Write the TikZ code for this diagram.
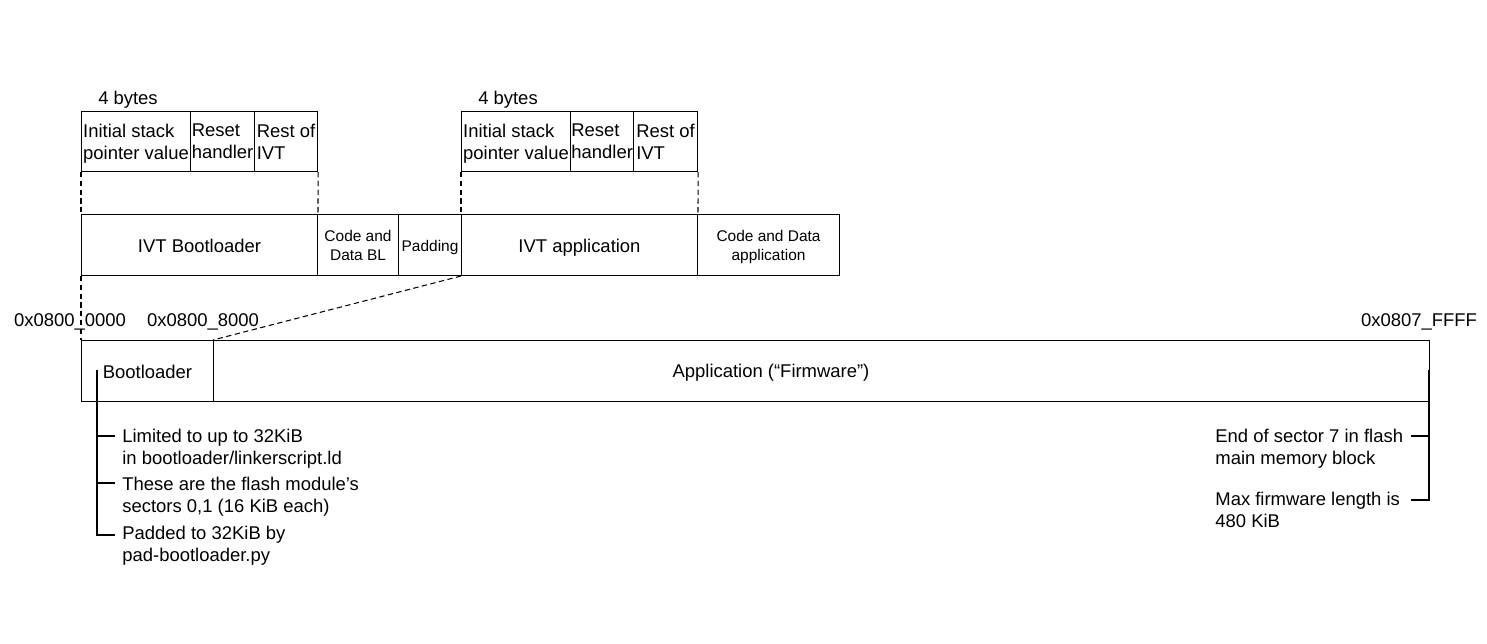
\documentclass[tikz,border=0pt]{standalone}
\usepackage{fontspec}
\setmainfont{Liberation Sans}
\begin{document}
\begin{tikzpicture}[x=0.02cm, y=-0.02cm, line width=0.6pt,
        every node/.style={font=\fontsize{10.5}{12.5}\selectfont, text depth=0pt,
            execute at begin node=\strut},
        cell/.style={draw, anchor=north west, inner sep=0.5pt, align=left},
        topcell/.style={cell, minimum height=1.2cm},
        rowcell/.style={cell, align=center, minimum height=1.22cm},
        small/.style={font=\fontsize{8.8}{10.8}\selectfont},
        guide/.style={dashed, dash pattern=on 3pt off 2pt, line width=0.6pt}]
        \useasboundingbox (0,0) rectangle (1487,644);

        % IVT of the bootloader
        \node (bytesbl) at (128,97) {4 bytes};
        \node[topcell, minimum width=2.18cm] (spbl) at (81,111) {Initial stack\\pointer value};
        \node[topcell, minimum width=1.28cm] (rstbl) at (190,111) {Reset\\handler};
        \node[topcell, minimum width=1.26cm] (restbl) at (254,111) {Rest of\\IVT};

        % IVT of the application
        \node (bytesapp) at (508,97) {4 bytes};
        \node[topcell, minimum width=2.18cm] (spapp) at (461,111) {Initial stack\\pointer value};
        \node[topcell, minimum width=1.26cm] (rstapp) at (570,111) {Reset\\handler};
        \node[topcell, minimum width=1.28cm] (restapp) at (633,111) {Rest of\\IVT};

        % Image layout
        \node[rowcell, minimum width=4.72cm] (ivtbl) at (81,214) {IVT Bootloader};
        \node[rowcell, small, minimum width=1.62cm] (codebl) at (317,214) {Code and\\Data BL};
        \node[rowcell, small, minimum width=1.26cm] (padding) at (398,214) {Padding};
        \node[rowcell, minimum width=4.72cm] (ivtapp) at (461,214) {IVT application};
        \node[rowcell, small, minimum width=2.84cm] (codeapp) at (697,214) {Code and Data\\application};

        % Flash
        \node[rowcell, minimum width=2.64cm] (boot) at (81,340) {Bootloader};
        \node[rowcell, minimum width=24.32cm] (firmware) at (213,340) {};
        \node (firmwarelbl) at (771,370) {Application (“Firmware”)};

        % Addresses
        \node (addrstart) at (70,319) {0x0800\_0000};
        \node (addrapp) at (203,319) {0x0800\_8000};
        \node (addrend) at (1419,319) {0x0807\_FFFF};

        % Zoom lines
        \draw[guide] (spbl.south west) -- (ivtbl.north west);
        \draw[guide] (restbl.south east) -- (ivtbl.north east);
        \draw[guide] (spapp.south west) -- (ivtapp.north west);
        \draw[guide] (restapp.south east) -- (ivtapp.north east);
        \draw[guide] (ivtbl.south west) -- (boot.north west);
        \draw[guide] (ivtapp.south west) -- (firmware.north west);

        % Notes on the bootloader
        \node[anchor=west, align=left] (notelimit) at (116,447) {Limited to up to 32KiB\\in bootloader/linkerscript.ld};
        \node[anchor=west, align=left] (notesectors) at (116,494.5) {These are the flash module’s\\sectors 0,1 (16 KiB each)};
        \node[anchor=west, align=left] (notepad) at (116,544) {Padded to 32KiB by\\pad-bootloader.py};
        \coordinate (bltop) at (97,370);
        \coordinate (bllimit) at (97,436);
        \coordinate (blsectors) at (97,483);
        \coordinate (blpad) at (97,535);
        \draw (bltop) -- (blpad) -- ++(18,0);
        \draw (bllimit) -- ++(18,0);
        \draw (blsectors) -- ++(18,0);

        % Notes on the firmware
        \node[anchor=west, align=left] (notesector) at (1209,447) {End of sector 7 in flash\\main memory block};
        \node[anchor=west, align=left] (notemax) at (1209,510) {Max firmware length is\\480 KiB};
        \coordinate (fwtop) at (1429,370);
        \coordinate (fwsector) at (1429,436);
        \coordinate (fwmax) at (1429,500);
        \draw (fwtop) -- (fwmax) -- ++(-18,0);
        \draw (fwsector) -- ++(-18,0);
    \end{tikzpicture}
\end{document}
